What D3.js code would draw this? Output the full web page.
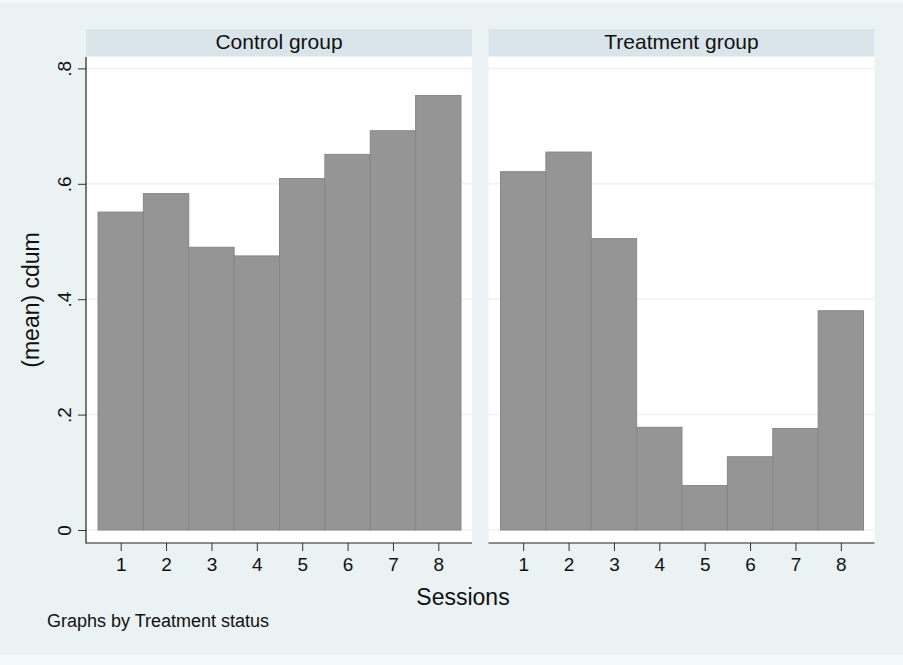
<!DOCTYPE html>
<html lang="en">
<head>
    <meta charset="UTF-8">
    <title>(mean) cdum by session</title>
    <script src="https://cdnjs.cloudflare.com/ajax/libs/d3/7.8.5/d3.min.js"></script>
    <style>
        body { margin: 0; background: #f4f9f9; }
        svg { display: block; font-family: "Liberation Sans", Arial, sans-serif; }
        .bar { fill: #959595; stroke: #878787; stroke-width: 1; }
        .grid { stroke: #eef2f3; stroke-width: 1.5; }
        .axis-line { stroke: #222; stroke-width: 1.2; }
    </style>
</head>
<body>
<svg width="903" height="665"></svg>
<script>
    // data
    const sessions = [1, 2, 3, 4, 5, 6, 7, 8];
    const panels = ["Control group", "Treatment group"];
    const controlMeans = [0.551, 0.583, 0.490, 0.475, 0.609, 0.651, 0.692, 0.753];
    const treatmentMeans = [0.621, 0.655, 0.505, 0.178, 0.077, 0.127, 0.176, 0.380];
    const yTicks = [0, 0.2, 0.4, 0.6, 0.8];
    const yTickLabels = ["0", ".2", ".4", ".6", ".8"];

    const svg = d3.select("svg");
    svg.append("rect").attr("x", 0).attr("y", 3).attr("width", 903).attr("height", 652).attr("fill", "#eaf2f3");

    const plotTop = 57, plotBottom = 543, panelW = 386;
    const panelX = [86, 488.5];
    const y = d3.scaleLinear().domain([0, 0.8]).range([530, 68.4]);
    const font = "Liberation Sans, Arial, sans-serif";

    const series = [controlMeans, treatmentMeans];

    panels.forEach((name, i) => {
        const x0 = panelX[i];
        const g = svg.append("g");
        const x = d3.scaleLinear().domain([0.5, 8.5]).range([x0 + 12, x0 + 375]);

        // header strip
        g.append("rect").attr("x", x0).attr("y", 29).attr("width", panelW).attr("height", 27)
            .attr("fill", "#d9e5ea");
        g.append("text").attr("x", x0 + panelW / 2).attr("y", 49).attr("text-anchor", "middle")
            .attr("font-size", 21).attr("fill", "#111").text(name);

        // plot region
        g.append("rect").attr("x", x0).attr("y", plotTop).attr("width", panelW).attr("height", plotBottom - plotTop)
            .attr("fill", "#fff");

        g.selectAll(".grid").data(yTicks).enter().append("line").attr("class", "grid")
            .attr("x1", x0).attr("x2", x0 + panelW)
            .attr("y1", d => y(d)).attr("y2", d => y(d));

        g.selectAll(".bar").data(series[i]).enter().append("rect").attr("class", "bar")
            .attr("x", (d, j) => x(sessions[j] - 0.5))
            .attr("width", (d, j) => x(sessions[j] + 0.5) - x(sessions[j] - 0.5))
            .attr("y", d => y(d))
            .attr("height", d => y(0) - y(d));

        // x axis
        const xAxis = d3.axisBottom(x).tickValues(sessions).tickSize(8).tickFormat(d3.format("d"));
        const xa = g.append("g").attr("transform", `translate(0,${plotBottom})`).call(xAxis);
        xa.select(".domain").remove();
        xa.append("line").attr("class", "axis-line").attr("x1", x0).attr("x2", x0 + panelW);
        xa.selectAll(".tick line").attr("stroke", "#333");
        xa.selectAll(".tick text").attr("font-size", 19).attr("fill", "#111")
            .attr("font-family", font).attr("dy", 0).attr("y", 28);

        // y axis only on the first panel
        if (i === 0) {
            const yAxis = d3.axisLeft(y).tickValues(yTicks).tickSize(8).tickFormat((d, k) => yTickLabels[k]);
            const ya = g.append("g").attr("transform", `translate(${x0},0)`).call(yAxis);
            ya.select(".domain").remove();
            ya.append("line").attr("class", "axis-line").attr("y1", plotTop).attr("y2", plotBottom + 0.6);
            ya.selectAll(".tick line").attr("stroke", "#333");
            ya.selectAll(".tick text")
                .attr("font-size", 19).attr("fill", "#111")
                .attr("font-family", font)
                .attr("text-anchor", "middle")
                .attr("x", 0).attr("y", 0).attr("dy", 0)
                .attr("transform", "translate(-15,0) rotate(-90)");
        }
    });

    // axis titles and note
    svg.append("text").attr("transform", `translate(39,${(plotTop + plotBottom) / 2}) rotate(-90)`)
        .attr("text-anchor", "middle").attr("font-size", 23).attr("fill", "#111").text("(mean) cdum");
    svg.append("text").attr("x", 463).attr("y", 605).attr("text-anchor", "middle")
        .attr("font-size", 23).attr("fill", "#111").text("Sessions");
    svg.append("text").attr("x", 47).attr("y", 627)
        .attr("font-size", 18).attr("fill", "#111").text("Graphs by Treatment status");
</script>
</body>
</html>
